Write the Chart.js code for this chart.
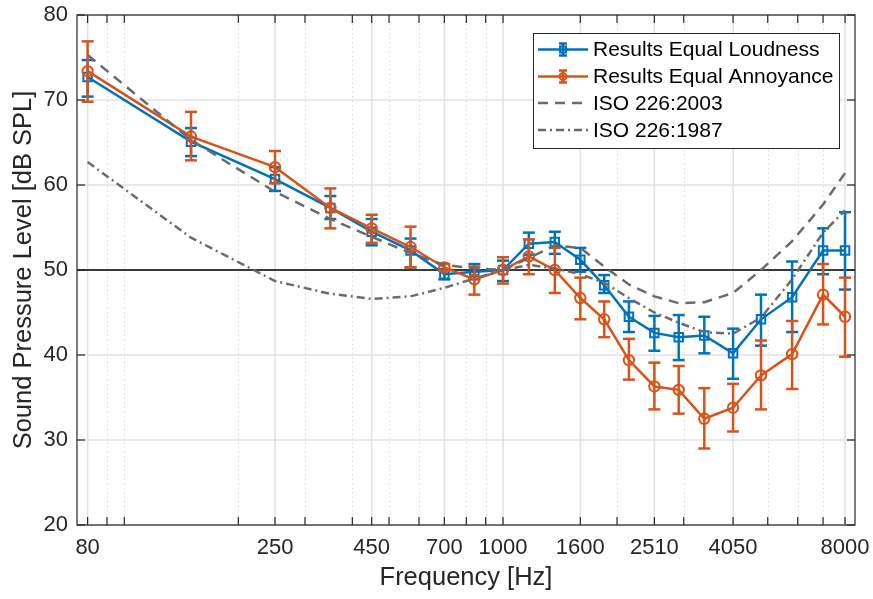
<!DOCTYPE html>
<html>
<head>
<meta charset="utf-8">
<script src="https://cdn.jsdelivr.net/npm/chart.js@4.4.1/dist/chart.umd.min.js"></script>
<style>
  html, body { margin: 0; padding: 0; background: #fff; }
</style>
</head>
<body>
<canvas id="chart" width="873" height="599"></canvas>
<script>
// frequencies of the test tones (Hz)
const freqs = [80, 150, 250, 350, 450, 570, 700, 840, 1000, 1170, 1370, 1600, 1850, 2150, 2510, 2910, 3400, 4050, 4800, 5800, 7000, 8000];

// equal loudness results + error bar limits
const loudness     = [72.7, 65.1, 60.7, 57.3, 54.5, 52.3, 49.5, 49.8, 50.0, 53.1, 53.3, 51.2, 48.2, 44.5, 42.6, 42.1, 42.3, 40.2, 44.2, 46.8, 52.3, 52.3];
const loudnessLow  = [70.4, 63.4, 59.3, 56.0, 52.9, 50.3, 48.9, 48.9, 48.7, 51.8, 51.9, 49.8, 47.3, 42.7, 40.5, 39.4, 40.2, 37.2, 41.1, 42.7, 49.5, 47.7];
const loudnessHigh = [74.7, 66.7, 62.1, 58.7, 56.0, 53.7, 50.1, 50.7, 51.1, 54.4, 54.5, 52.6, 49.4, 46.3, 44.6, 44.7, 44.5, 43.1, 47.1, 51.0, 54.9, 56.8];

// equal annoyance results + error bar limits
const annoyance     = [73.4, 65.7, 62.1, 57.3, 54.9, 52.7, 50.3, 48.9, 50.0, 51.6, 50.0, 46.7, 44.2, 39.4, 36.3, 35.9, 32.5, 33.8, 37.6, 40.1, 47.1, 44.5];
const annoyanceLow  = [69.8, 62.9, 60.2, 54.9, 53.2, 50.3, 49.9, 47.1, 48.4, 49.5, 47.3, 44.2, 42.1, 37.1, 33.6, 33.1, 29.0, 31.0, 33.6, 36.0, 43.6, 39.8];
const annoyanceHigh = [76.9, 68.6, 64.0, 59.6, 56.5, 55.1, 50.7, 50.4, 51.5, 53.6, 52.6, 49.1, 46.3, 41.9, 39.1, 38.7, 36.1, 36.6, 41.7, 44.0, 50.7, 49.1];

// ISO reference contours (50 phon)
const iso2003 = [75.3, 65.3, 59.2, 56.0, 53.9, 52.0, 50.6, 50.2, 50.0, 51.4, 52.9, 52.6, 50.4, 48.3, 46.9, 46.1, 46.2, 47.3, 50.0, 53.4, 57.7, 61.4];
const iso1987 = [62.7, 53.8, 48.7, 47.2, 46.6, 46.9, 47.9, 49.0, 50.0, 50.6, 50.2, 49.5, 48.5, 46.7, 45.0, 43.8, 42.7, 42.5, 44.4, 48.9, 54.4, 57.0];

// axis ticks
const xMajorTicks = [80, 250, 450, 700, 1000, 1600, 2510, 4050, 8000];
const xMinorTicks = [90, 100, 200, 300, 400, 500, 600, 800, 900, 2000, 3000, 5000, 6000, 7000];
const yTicks = [20, 30, 40, 50, 60, 70, 80];

const BLUE = '#0072BD';
const ORANGE = '#D95319';
const GRAY = '#6b6b6b';
const AXIS = '#262626';
const FONT = "'Liberation Sans', Arial, sans-serif";

function toPoints(values) {
    return freqs.map((f, i) => ({ x: f, y: values[i] }));
}

const errorBars = {
    0: { low: loudnessLow, high: loudnessHigh, color: BLUE },
    1: { low: annoyanceLow, high: annoyanceHigh, color: ORANGE }
};

function line(ctx, x1, y1, x2, y2) {
    ctx.beginPath();
    ctx.moveTo(x1, y1);
    ctx.lineTo(x2, y2);
    ctx.stroke();
}

// grid, error bars, box and legend
const decorations = {
    id: 'decorations',
    beforeDatasetsDraw(chart) {
        const { ctx, chartArea: a, scales: { x, y } } = chart;
        ctx.save();
        ctx.lineWidth = 1;
        ctx.strokeStyle = '#dadada';
        ctx.setLineDash([1.5, 3]);
        xMinorTicks.forEach(v => {
            const px = Math.round(x.getPixelForValue(v)) + 0.5;
            line(ctx, px, a.top, px, a.bottom);
        });
        ctx.setLineDash([]);
        ctx.strokeStyle = '#e2e2e2';
        ctx.lineWidth = 1.5;
        xMajorTicks.forEach(v => {
            const px = x.getPixelForValue(v);
            line(ctx, px, a.top, px, a.bottom);
        });
        yTicks.forEach(v => {
            const py = y.getPixelForValue(v);
            line(ctx, a.left, py, a.right, py);
        });
        // 50 dB reference line
        ctx.strokeStyle = '#000';
        ctx.lineWidth = 1.3;
        const p50 = y.getPixelForValue(50);
        line(ctx, a.left, p50, a.right, p50);
        ctx.restore();
    },
    beforeDatasetDraw(chart, args) {
        const eb = errorBars[args.index];
        if (!eb) return;
        const { ctx, scales: { x, y } } = chart;
        ctx.save();
        ctx.strokeStyle = eb.color;
        ctx.lineWidth = 2.5;
        freqs.forEach((f, i) => {
            const px = x.getPixelForValue(f);
            const pl = y.getPixelForValue(eb.low[i]);
            const ph = y.getPixelForValue(eb.high[i]);
            line(ctx, px, pl, px, ph);
            line(ctx, px - 6, pl, px + 6, pl);
            line(ctx, px - 6, ph, px + 6, ph);
        });
        ctx.restore();
    },
    afterDraw(chart) {
        const { ctx, chartArea: a, scales: { x, y } } = chart;
        ctx.save();
        ctx.strokeStyle = AXIS;
        ctx.lineWidth = 1.2;
        ctx.strokeRect(a.left, a.top, a.right - a.left, a.bottom - a.top);
        const tl = 8;
        xMajorTicks.concat(xMinorTicks).forEach(v => {
            const px = x.getPixelForValue(v);
            line(ctx, px, a.bottom, px, a.bottom - tl);
            line(ctx, px, a.top, px, a.top + tl);
        });
        yTicks.forEach(v => {
            const py = y.getPixelForValue(v);
            line(ctx, a.left, py, a.left + tl, py);
            line(ctx, a.right, py, a.right - tl, py);
        });

        // legend
        const lx = 533, ly = 33, lw = 306, lh = 115;
        ctx.fillStyle = '#fff';
        ctx.fillRect(lx, ly, lw, lh);
        ctx.strokeStyle = AXIS;
        ctx.lineWidth = 1;
        ctx.strokeRect(lx + 0.5, ly + 0.5, lw, lh);
        const rows = chart.data.datasets;
        const rowY = [49.5, 76.5, 103, 130];
        const x1 = 538, x2 = 588, xm = 563;
        rows.forEach((ds, i) => {
            const ry = rowY[i];
            ctx.strokeStyle = ds.borderColor;
            ctx.lineWidth = ds.borderWidth;
            ctx.setLineDash(ds.borderDash || []);
            line(ctx, x1, ry, x2, ry);
            ctx.setLineDash([]);
            if (errorBars[i]) {
                line(ctx, xm, ry - 6, xm, ry + 6);
                line(ctx, xm - 4, ry - 6, xm + 4, ry - 6);
                line(ctx, xm - 4, ry + 6, xm + 4, ry + 6);
                ctx.lineWidth = 2;
                ctx.beginPath();
                if (ds.pointStyle === 'rect') {
                    ctx.rect(xm - 3, ry - 3, 6, 6);
                } else {
                    ctx.arc(xm, ry, 3.5, 0, Math.PI * 2);
                }
                ctx.stroke();
            }
            ctx.fillStyle = '#000';
            ctx.font = '21px ' + FONT;
            ctx.textBaseline = 'middle';
            ctx.textAlign = 'left';
            ctx.fillText(ds.label, 593, ry + 1);
        });
        ctx.restore();
    }
};

new Chart(document.getElementById('chart'), {
    type: 'line',
    data: {
        datasets: [
            {
                label: 'Results Equal Loudness',
                data: toPoints(loudness),
                borderColor: BLUE,
                borderWidth: 2.5,
                pointStyle: 'rect',
                pointRadius: 6,
                pointBorderWidth: 2,
                pointBackgroundColor: 'rgba(0,0,0,0)',
                pointBorderColor: BLUE,
                tension: 0,
                order: 4
            },
            {
                label: 'Results Equal Annoyance',
                data: toPoints(annoyance),
                borderColor: ORANGE,
                borderWidth: 2.5,
                pointStyle: 'circle',
                pointRadius: 5.2,
                pointBorderWidth: 2,
                pointBackgroundColor: 'rgba(0,0,0,0)',
                pointBorderColor: ORANGE,
                tension: 0,
                order: 3
            },
            {
                label: 'ISO 226:2003',
                data: toPoints(iso2003),
                borderColor: GRAY,
                borderWidth: 2.5,
                borderDash: [10, 7],
                pointRadius: 0,
                tension: 0,
                order: 2
            },
            {
                label: 'ISO 226:1987',
                data: toPoints(iso1987),
                borderColor: GRAY,
                borderWidth: 2.5,
                borderDash: [8, 4, 2, 4],
                pointRadius: 0,
                tension: 0,
                order: 1
            }
        ]
    },
    options: {
        responsive: false,
        animation: false,
        devicePixelRatio: 1,
        layout: { padding: { left: 0, right: 18, top: 15, bottom: 0 } },
        plugins: {
            legend: { display: false },
            tooltip: { enabled: false }
        },
        scales: {
            x: {
                type: 'logarithmic',
                min: 75,
                max: 8500,
                afterBuildTicks: scale => {
                    scale.ticks = xMajorTicks.map(v => ({ value: v }));
                },
                afterFit: scale => {
                    scale.height = 74;
                    scale.paddingLeft = 0;
                    scale.paddingRight = 0;
                },
                grid: { display: false, drawTicks: false },
                border: { display: false },
                ticks: {
                    autoSkip: false,
                    maxRotation: 0,
                    padding: 9.5,
                    color: AXIS,
                    font: { family: FONT, size: 22 },
                    callback: v => String(v)
                },
                title: {
                    display: true,
                    text: 'Frequency [Hz]',
                    color: AXIS,
                    font: { family: FONT, size: 25.5 },
                    padding: { top: 0, bottom: 6 }
                }
            },
            y: {
                min: 20,
                max: 80,
                afterBuildTicks: scale => {
                    scale.ticks = yTicks.map(v => ({ value: v }));
                },
                afterFit: scale => {
                    scale.width = 77;
                    scale.paddingTop = 0;
                    scale.paddingBottom = 0;
                },
                grid: { display: false, drawTicks: false },
                border: { display: false },
                ticks: {
                    padding: 9,
                    color: AXIS,
                    font: { family: FONT, size: 22 }
                },
                title: {
                    display: true,
                    text: 'Sound Pressure Level [dB SPL]',
                    color: AXIS,
                    font: { family: FONT, size: 25.5 },
                    padding: { top: 9, bottom: 0 }
                }
            }
        }
    },
    plugins: [decorations]
});
</script>
</body>
</html>
